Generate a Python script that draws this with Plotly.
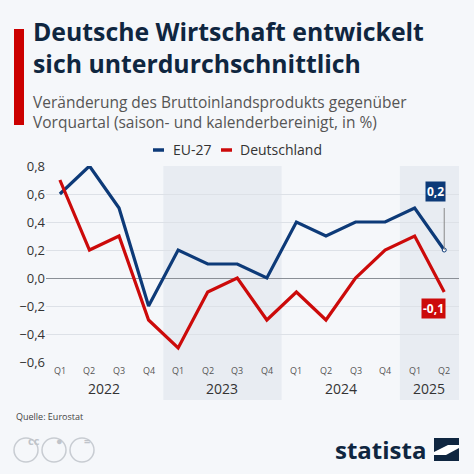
import plotly.graph_objects as go

# data (change vs previous quarter, %)
quarters = ["Q1", "Q2", "Q3", "Q4", "Q1", "Q2", "Q3", "Q4",
            "Q1", "Q2", "Q3", "Q4", "Q1", "Q2"]
years = ["2022", "2023", "2024", "2025"]
eu27 = [0.6, 0.8, 0.5, -0.2, 0.2, 0.1, 0.1, 0.0, 0.4, 0.3, 0.4, 0.4, 0.5, 0.2]
deutschland = [0.7, 0.2, 0.3, -0.3, -0.5, -0.1, 0.0, -0.3, -0.1, -0.3, 0.0, 0.2, 0.3, -0.1]
y_ticks = [0.8, 0.6, 0.4, 0.2, 0.0, -0.2, -0.4, -0.6]

NAVY = "#0d3a78"
RED = "#cc0a0a"
DARK = "#0f2640"
BG = "#f5f7fa"
BAND = "#e8ecf2"

W, H = 474, 474
L, R, T, B = 46, 15, 166, 112
pw, ph = W - L - R, H - T - B

def px(x):  # pixel -> paper x
    return (x - L) / pw

def py(y):  # pixel -> paper y
    return (H - B - y) / ph

x = list(range(len(quarters)))

fig = go.Figure()
fig.add_trace(go.Scatter(x=x, y=eu27, mode="lines", name="EU-27",
                         line=dict(color=NAVY, width=3.2), showlegend=False))
fig.add_trace(go.Scatter(x=x, y=deutschland, mode="lines", name="Deutschland",
                         line=dict(color=RED, width=3.2), showlegend=False))
# small white end marker on EU line
fig.add_trace(go.Scatter(x=[x[-1]], y=[eu27[-1]], mode="markers",
                         marker=dict(color="white", size=4, line=dict(color=NAVY, width=1)),
                         showlegend=False, hoverinfo="skip"))

shapes = []
annotations = []

# year bands (2023 and 2025 shaded), extending down over the year labels
year_starts = [0, 4, 8, 12]
for i, yr in enumerate(years):
    x0 = year_starts[i] - 0.5
    x1 = (year_starts[i + 1] - 0.5) if i + 1 < len(year_starts) else len(quarters) - 0.5
    if i % 2 == 1:
        shapes.append(dict(type="rect", xref="x", yref="paper", x0=x0, x1=min(x1, 13.5),
                           y0=py(400), y1=1, fillcolor=BAND, line=dict(width=0), layer="below"))
    xc = (year_starts[i] + min(year_starts[i] + 3, len(quarters) - 1)) / 2
    annotations.append(dict(x=xc, y=py(388), xref="x", yref="paper", text=yr, showarrow=False,
                            font=dict(size=14, color="#333333"), yanchor="middle"))

# Q labels
for xi, q in zip(x, quarters):
    annotations.append(dict(x=xi, y=py(370), xref="x", yref="paper", text=q, showarrow=False,
                            font=dict(size=9, color="#555555"), yanchor="middle"))

# end labels
shapes.append(dict(type="line", xref="x", yref="y", x0=x[-1], x1=x[-1], y0=eu27[-1], y1=0.5,
                   line=dict(color="#888888", width=1)))
annotations.append(dict(x=x[-1], y=eu27[-1], xref="x", yref="y", text="<b>0,2</b>",
                        showarrow=False, xanchor="right", xshift=2, yshift=59,
                        bgcolor=NAVY, font=dict(size=12, color="white", family="Open Sans"),
                        borderpad=1))
annotations.append(dict(x=x[-1], y=deutschland[-1], xref="x", yref="y", text="<b>-0,1</b>",
                        showarrow=False, xanchor="right", xshift=2, yshift=-16,
                        bgcolor=RED, font=dict(size=12, color="white", family="Open Sans"),
                        borderpad=1))

# title block
shapes.append(dict(type="rect", xref="paper", yref="paper", x0=px(14), x1=px(24),
                   y0=py(125), y1=py(29), fillcolor="#cc0000", line=dict(width=0)))
annotations.append(dict(x=px(31), y=py(47), xref="paper", yref="paper", xanchor="left",
                        yanchor="middle", showarrow=False, align="left",
                        text="<b>Deutsche Wirtschaft entwickelt<br>sich unterdurchschnittlich</b>",
                        font=dict(size=24.8, color=DARK, family="Open Sans")))
annotations.append(dict(x=px(31), y=py(112), xref="paper", yref="paper", xanchor="left",
                        yanchor="middle", showarrow=False, align="left",
                        text="Veränderung des Bruttoinlandsprodukts gegenüber<br>"
                             "Vorquartal (saison- und kalenderbereinigt, in %)",
                        font=dict(size=15.5, color="#555555", family="Open Sans")))

# legend
for (xa, xb, col, txt, tx) in [(153, 164, NAVY, "EU-27", 171), (221, 232, RED, "Deutschland", 238)]:
    shapes.append(dict(type="line", xref="paper", yref="paper", x0=px(xa), x1=px(xb),
                       y0=py(150), y1=py(150), line=dict(color=col, width=3.5)))
    annotations.append(dict(x=px(tx), y=py(150), xref="paper", yref="paper", text=txt,
                            xanchor="left", yanchor="middle", showarrow=False,
                            font=dict(size=14, color="#333333", family="Open Sans")))

# footer
annotations.append(dict(x=px(14), y=py(416), xref="paper", yref="paper", text="Quelle: Eurostat",
                        xanchor="left", yanchor="middle", showarrow=False,
                        font=dict(size=9, color="#444444", family="Open Sans")))
for cx, sym in [(26, "cc"), (54, "●"), (82, "=")]:
    shapes.append(dict(type="circle", xref="paper", yref="paper", x0=px(cx - 12), x1=px(cx + 12),
                       y0=py(462), y1=py(438), line=dict(color="#c8ccd2", width=1.5)))
    annotations.append(dict(x=px(cx), y=py(450), xref="paper", yref="paper", text="<b>" + sym + "</b>",
                            showarrow=False, font=dict(size=11, color="#c0c4ca", family="Open Sans")))
annotations.append(dict(x=px(428), y=py(449), xref="paper", yref="paper", text="<b>statista</b>",
                        xanchor="right", yanchor="middle", showarrow=False,
                        font=dict(size=24, color=DARK, family="Open Sans")))
shapes.append(dict(type="rect", xref="paper", yref="paper", x0=px(434), x1=px(459),
                   y0=py(461), y1=py(438), fillcolor=DARK, line=dict(width=0)))
shapes.append(dict(type="path", xref="paper", yref="paper",
                   path=f"M {px(434)},{py(452)} L {px(448)},{py(445)} L {px(459)},{py(445)} "
                        f"L {px(459)},{py(448)} L {px(446)},{py(455)} L {px(434)},{py(455)} Z",
                   fillcolor="white", line=dict(width=0)))

fig.update_layout(
    width=W, height=H,
    margin=dict(l=L, r=R, t=T, b=B),
    paper_bgcolor=BG, plot_bgcolor=BG,
    separators=",.",
    font=dict(family="Open Sans", color="#333333"),
    xaxis=dict(range=[-0.47, 13.5], showgrid=False, zeroline=False, showticklabels=False,
               fixedrange=True),
    yaxis=dict(range=[-0.6, 0.8], tickvals=y_ticks, tickformat=".1f", gridcolor="#dde1e7",
               gridwidth=1, zeroline=True, zerolinecolor="#8a8f96", zerolinewidth=1.2,
               tickfont=dict(size=13, color="#333333"), ticks="", ticklen=0),
    shapes=shapes,
    annotations=annotations,
)

fig.write_html("out.html", config={"displayModeBar": False},
               post_script="document.body.style.margin='0';")
